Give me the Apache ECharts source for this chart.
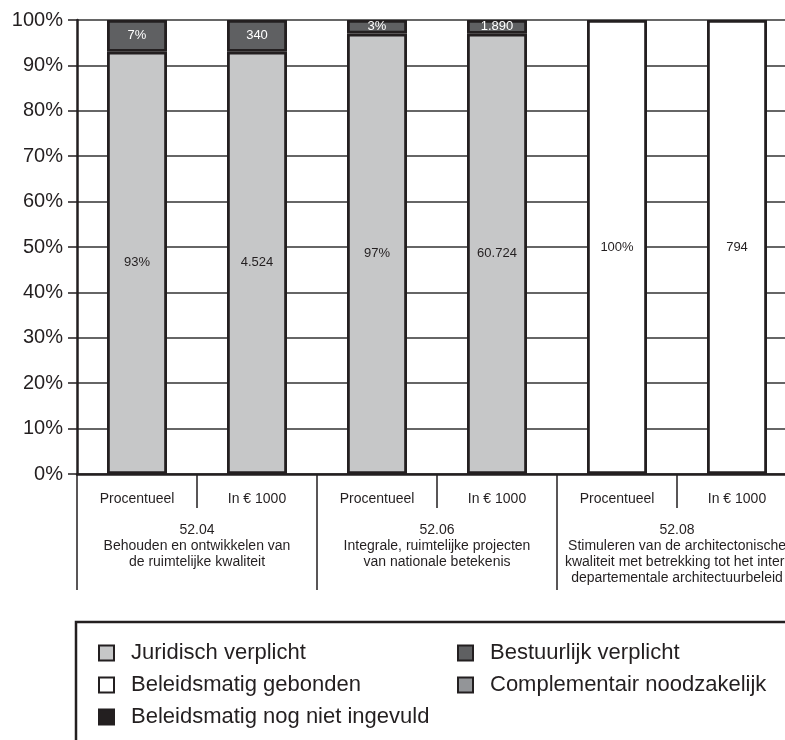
<!DOCTYPE html>
<html>
<head>
<meta charset="utf-8">
<script src="https://cdn.jsdelivr.net/npm/echarts@6/dist/echarts.min.js"></script>
<style>
html,body{margin:0;padding:0;background:#fff;}
#chart{width:785px;height:740px;}
</style>
</head>
<body>
<div id="chart"></div>
<script>
// ---- data ----
const categories = ['Procentueel', 'In € 1000', 'Procentueel', 'In € 1000', 'Procentueel', 'In € 1000'];
const groups = [
  '52.04\nBehouden en ontwikkelen van\nde ruimtelijke kwaliteit',
  '52.06\nIntegrale, ruimtelijke projecten\nvan nationale betekenis',
  '52.08\nStimuleren van de architectonische\nkwaliteit met betrekking tot het inter-\ndepartementale architectuurbeleid'
];
const yTicks = [0, 10, 20, 30, 40, 50, 60, 70, 80, 90, 100];
const seriesNames = ['Juridisch verplicht', 'Bestuurlijk verplicht', 'Beleidsmatig gebonden', 'Complementair noodzakelijk', 'Beleidsmatig nog niet ingevuld'];
const juridisch     = [93, 4524, 97, 60724, null, null];
const bestuurlijk   = [7, 340, 3, 1890, null, null];
const gebonden      = [null, null, null, null, 100, 794];
const complementair = [null, null, null, null, null, null];
const nietIngevuld  = [null, null, null, null, null, null];

const rawSeries = [juridisch, bestuurlijk, gebonden, complementair, nietIngevuld];
const colors = ['#c6c7c8', '#5f6062', '#ffffff', '#939598', '#231f20'];
const labelColors = ['#231f20', '#ffffff', '#231f20', '#231f20', '#ffffff'];
const ink = '#231f20';
const font = "'Liberation Sans', Arial, sans-serif";

// column totals -> share of 100%
const totals = categories.map((c, i) => rawSeries.reduce((s, arr) => s + (arr[i] == null ? 0 : arr[i]), 0));

function fmt(v, i) {
  if (i % 2 === 0) return v + '%';
  return String(v).replace(/\B(?=(\d{3})+(?!\d))/g, '.');
}

const series = rawSeries.map((arr, k) => ({
  name: seriesNames[k],
  type: 'bar',
  stack: 'total',
  barWidth: 60,
  xAxisIndex: 0,
  itemStyle: { color: colors[k], borderColor: ink, borderWidth: 2.8 },
  label: {
    show: true,
    position: 'inside',
    color: labelColors[k],
    fontSize: 13,
    fontFamily: font,
    formatter: p => fmt(p.data.raw, p.dataIndex)
  },
  data: arr.map((v, i) => v == null ? { value: null, raw: null } : { value: v / totals[i] * 100, raw: v })
}));

const legendCommon = {
  orient: 'vertical',
  top: 642,
  padding: 0,
  selectedMode: false,
  icon: 'rect',
  itemWidth: 15,
  itemHeight: 15,
  itemGap: 10,
  itemStyle: { borderColor: ink, borderWidth: 2 },
  textStyle: { fontSize: 22, lineHeight: 22, color: ink, fontFamily: font, padding: [0, 0, 0, 12] }
};

const chart = echarts.init(document.getElementById('chart'), null, { renderer: 'canvas' });
chart.setOption({
  animation: false,
  backgroundColor: '#fff',
  textStyle: { fontFamily: font, color: ink },
  grid: { left: 77, top: 20, width: 720, height: 454, containLabel: false, outerBoundsMode: 'none' },
  xAxis: [
    {
      type: 'category',
      data: categories,
      position: 'bottom',
      axisLine: { show: true, lineStyle: { color: ink, width: 2.5 } },
      axisTick: { show: true, alignWithLabel: false, length: 34, lineStyle: { color: ink, width: 1.5 } },
      axisLabel: { fontSize: 14, color: ink, margin: 18, fontFamily: font },
      splitLine: { show: false }
    },
    {
      type: 'category',
      data: groups,
      position: 'bottom',
      axisLine: { show: false },
      axisTick: { show: true, alignWithLabel: false, length: 116, lineStyle: { color: ink, width: 1.5 } },
      axisLabel: { fontSize: 14, color: ink, margin: 48, lineHeight: 16, fontFamily: font, align: 'center', interval: 0 },
      splitLine: { show: false }
    }
  ],
  yAxis: {
    type: 'value',
    min: yTicks[0],
    max: yTicks[yTicks.length - 1],
    interval: 10,
    axisLine: { show: true, lineStyle: { color: ink, width: 2.5 } },
    axisTick: { show: true, length: 9, lineStyle: { color: ink, width: 1.5 } },
    axisLabel: { fontSize: 20, color: ink, margin: 14, fontFamily: font, formatter: '{value}%' },
    splitLine: { show: true, lineStyle: { color: '#333', width: 1.5 } }
  },
  legend: [
    Object.assign({}, legendCommon, { left: 98, data: [seriesNames[0], seriesNames[2], seriesNames[4]] }),
    Object.assign({}, legendCommon, { left: 457, data: [seriesNames[1], seriesNames[3]] })
  ],
  graphic: [
    {
      type: 'rect',
      shape: { x: 76, y: 622, width: 740, height: 140 },
      style: { fill: 'none', stroke: ink, lineWidth: 2.5 },
      silent: true
    }
  ],
  series: series
});
</script>
</body>
</html>
